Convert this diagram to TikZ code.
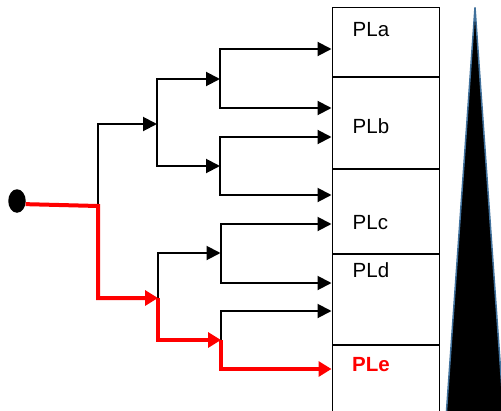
\documentclass[tikz,border=0pt]{standalone}
\usepackage{fontspec}
\setmainfont{Liberation Sans}
\usetikzlibrary{arrows.meta,shapes.geometric}
\definecolor{keil}{RGB}{65,113,156}

\begin{document}
\begin{tikzpicture}[x=1pt, y=-1pt,
    pfeil/.style={line width=2pt, -{Triangle[length=14pt,width=14pt]}},
    rotpfeil/.style={red, line width=4pt, -{Triangle[length=13pt,width=15pt]}},
    feld/.style={draw, line width=1pt, minimum width=107.8pt, inner sep=0pt, anchor=north west},
    etikett/.style={anchor=base west, inner sep=0pt, font=\fontsize{20.5}{24}\selectfont}]
  \useasboundingbox (0,0) rectangle (501,410);

  % Felder
  \node[feld, minimum height=68.4pt] (pla) at (331.5,7.3) {};
  \node[feld, minimum height=91.6pt] (plb) at (pla.south west) {};
  \node[feld, minimum height=83.4pt] (plc) at (plb.south west) {};
  \node[feld, minimum height=90pt] (pld) at (plc.south west) {};
  \node[feld, minimum height=85pt] (ple) at (pld.south west) {};

  \node[etikett] (tpla) at (352.5,36.7) {PLa};
  \node[etikett] (tplb) at (352.5,133) {PLb};
  \node[etikett] (tplc) at (352.5,229) {PLc};
  \node[etikett] (tpld) at (352.5,277) {PLd};
  \node[etikett, red, font=\fontsize{20.5}{24}\selectfont\bfseries] (tple) at (352,371.7) {PLe};

  % Baum
  \node[ellipse, fill=black, minimum width=17.5pt, minimum height=23.5pt, inner sep=0pt] (punkt) at (17,201) {};
  \coordinate (wurzel) at (98,206);
  \coordinate (a) at (157,124);
  \coordinate (b) at (158,298);
  \coordinate (aa) at (220,79);
  \coordinate (ab) at (220,166);
  \coordinate (ba) at (220.5,253);
  \coordinate (bb) at (221,340);
  \foreach \y [count=\i] in {49,108,137,195,224,283,311,369}
    \coordinate (z\i) at (331.5,\y);

  \draw[pfeil] (wurzel) |- (a);
  \draw[pfeil] (a) |- (aa);
  \draw[pfeil] (a) |- (ab);
  \draw[pfeil] (aa) |- (z1);
  \draw[pfeil] (aa) |- (z2);
  \draw[pfeil] (ab) |- (z3);
  \draw[pfeil] (ab) |- (z4);
  \draw[pfeil] (b) |- (ba);
  \draw[pfeil] (ba) |- (z5);
  \draw[pfeil] (ba) |- (z6);
  \draw[pfeil] (bb) |- (z7);

  \draw[rotpfeil] (punkt.-20) -- (wurzel) |- (b);
  \draw[rotpfeil] (b) |- (bb);
  \draw[rotpfeil] (bb) |- (z8);

  % Keil
  \begin{scope}
    \clip (0,0) rectangle (501,410);
    \draw[fill=black, draw=keil, line width=1.5pt] (475,7.5) -- (445.5,425) -- (504.5,425) -- cycle;
  \end{scope}

\end{tikzpicture}
\end{document}
